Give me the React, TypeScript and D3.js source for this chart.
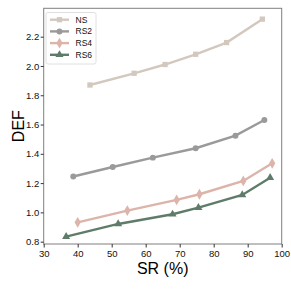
import React, { useEffect, useRef } from 'react';
import * as d3 from 'd3';

// series
const seriesNames = ['NS', 'RS2', 'RS4', 'RS6'];
const nsX = [43.6, 56.6, 65.7, 74.7, 83.8, 94.3];
const nsY = [1.87, 1.95, 2.01, 2.08, 2.16, 2.32];
const rs2X = [38.7, 50.3, 62.1, 74.7, 86.4, 94.9];
const rs2Y = [1.245, 1.31, 1.374, 1.438, 1.524, 1.631];
const rs4X = [40.0, 54.6, 69.1, 75.8, 88.7, 97.2];
const rs4Y = [0.932, 1.012, 1.085, 1.124, 1.215, 1.335];
const rs6X = [36.6, 51.9, 67.9, 75.5, 88.4, 96.6];
const rs6Y = [0.834, 0.921, 0.987, 1.032, 1.119, 1.237];
const colors = ['#d3c8be', '#9a9a9a', '#dcb4aa', '#5f7b69'];
const symbols = [d3.symbolSquare, d3.symbolCircle, d3.symbolDiamond, d3.symbolTriangle];
const xTicks = [30, 40, 50, 60, 70, 80, 90, 100];
const yTicks = [0.8, 1.0, 1.2, 1.4, 1.6, 1.8, 2.0, 2.2];

export default function App() {
  const ref = useRef<SVGSVGElement>(null);

  useEffect(() => {
    const svg = d3.select(ref.current);
    svg.selectAll('*').remove();
    const font = "'Liberation Sans', Arial, sans-serif";

    const left = 43.7, right = 281.7, top = 8.3, bottom = 244;
    const x = d3.scaleLinear().domain([30, 100]).range([left, right]);
    const y = d3.scaleLinear().domain([0.784, 2.394]).range([bottom, top]);

    const data = [
      d3.zip(nsX, nsY),
      d3.zip(rs2X, rs2Y),
      d3.zip(rs4X, rs4Y),
      d3.zip(rs6X, rs6Y),
    ];

    //Frame
    svg.append('rect')
      .attr('x', left).attr('y', top)
      .attr('width', right - left).attr('height', bottom - top)
      .attr('fill', 'none').attr('stroke', '#7f7f7f').attr('stroke-width', 1);

    //Axes
    const xAxis = svg.append('g')
      .attr('transform', 'translate(0,' + bottom + ')')
      .call(d3.axisBottom(x).tickValues(xTicks).tickSize(3.5).tickPadding(2.5).tickFormat(d3.format('d')));
    const yAxis = svg.append('g')
      .attr('transform', 'translate(' + left + ',0)')
      .call(d3.axisLeft(y).tickValues(yTicks).tickSize(3).tickPadding(1.5).tickFormat(d3.format('.1f')));
    [xAxis, yAxis].forEach((a) => {
      a.select('.domain').remove();
      a.selectAll('line').attr('stroke', '#333');
      a.selectAll('text')
        .attr('fill', '#111')
        .style('font-family', font)
        .style('font-size', '9.5px');
    });

    //Lines and markers
    const line = d3.line<[number, number]>().x((d) => x(d[0])).y((d) => y(d[1]));
    data.forEach((pts, i) => {
      svg.append('path')
        .attr('d', line(pts as [number, number][]))
        .attr('fill', 'none')
        .attr('stroke', colors[i])
        .attr('stroke-width', 2.4);
      svg.selectAll('.m' + i)
        .data(pts)
        .enter().append('path')
        .attr('class', 'm' + i)
        .attr('transform', (d) => 'translate(' + x(d[0]) + ',' + y(d[1]) + ')')
        .attr('d', d3.symbol().type(symbols[i]).size(i === 2 ? 34 : 28)())
        .attr('fill', colors[i]);
    });

    //Axis labels
    svg.append('text')
      .attr('x', (left + right) / 2).attr('y', 274)
      .attr('text-anchor', 'middle')
      .style('font-family', font).style('font-size', '16px')
      .text('SR (%)');
    svg.append('text')
      .attr('transform', 'translate(23.5,' + (top + bottom) / 2 + ') rotate(-90)')
      .attr('text-anchor', 'middle')
      .style('font-family', font).style('font-size', '16px')
      .text('DEF');

    //Legend
    const lg = svg.append('g');
    lg.append('rect')
      .attr('x', 46).attr('y', 12.5).attr('width', 50).attr('height', 51.5).attr('rx', 2)
      .attr('fill', 'white').attr('stroke', '#d8d8d8').attr('stroke-width', 0.8);
    const item = lg.selectAll('.legend')
      .data(seriesNames)
      .enter().append('g')
      .attr('class', 'legend')
      .attr('transform', (d, i) => 'translate(0,' + (19.7 + i * 11.7) + ')');
    item.append('line')
      .attr('x1', 50).attr('x2', 69)
      .attr('stroke', (d, i) => colors[i]).attr('stroke-width', 2.4);
    item.append('path')
      .attr('transform', 'translate(59.5,0)')
      .attr('d', (d, i) => d3.symbol().type(symbols[i]).size(i === 2 ? 34 : 28)())
      .attr('fill', (d, i) => colors[i]);
    item.append('text')
      .attr('x', 75.5).attr('dy', '0.35em')
      .style('font-family', font).style('font-size', '8.5px')
      .attr('fill', '#111')
      .text((d) => d);
  }, []);

  return (
    <svg ref={ref} width={291} height={291}
      style={{ position: 'absolute', left: 0, top: 0, background: 'white' }} />
  );
}
